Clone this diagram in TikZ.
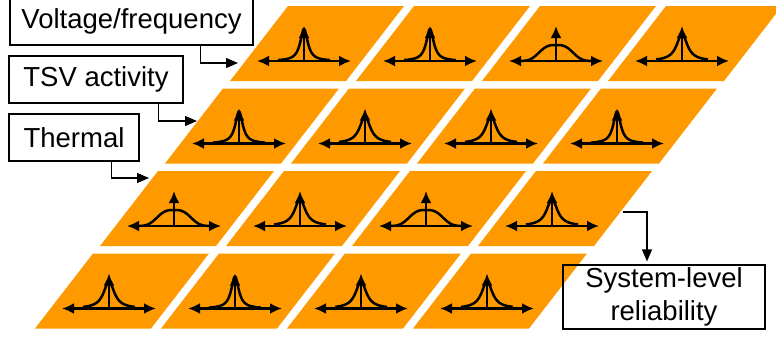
\documentclass[tikz,border=0pt]{standalone}
\usepackage{fontspec}
\setmainfont{Liberation Sans}
\usepackage{tikz}
\usetikzlibrary{arrows.meta}
\definecolor{tileorange}{RGB}{255,153,0}

\begin{document}
\begin{tikzpicture}[
    x=0.5pt, y=-0.5pt,
    labelbox/.style={rectangle, draw, line width=0.6pt, minimum height=23.5pt, inner sep=0pt, align=center, font=\fontsize{13.75}{16.5}\selectfont},
    conn/.style={-{Triangle[length=6pt,width=5pt]}, line width=0.6pt},
    glyph/.style={line width=1.25pt},
    garrow/.style={glyph, -{Latex[length=6pt,width=5.5pt]}},
    gdouble/.style={glyph, {Latex[length=6pt,width=5.5pt]}-{Latex[length=6pt,width=5.5pt]}},
    pics/peaktile/.style 2 args={code={
        \fill[tileorange] (0,0) -- (116,0) -- (58,75) -- (-58,75) -- cycle;
        \draw[glyph] plot[smooth, domain=-26:26, samples=105] ({16+\x},{55-#1/(1+(\x/#2)*(\x/#2))});
        \draw[gdouble] (-31,55) -- (63,55);
        \draw[garrow] (16,55) -- (16,20);
    }},
    pics/flattile/.style={code={
        \fill[tileorange] (0,0) -- (116,0) -- (58,75) -- (-58,75) -- cycle;
        \draw[glyph] plot[smooth, domain=-38:38, samples=77] ({16+\x},{55-16*exp(0-(abs(\x)/19.7)*(abs(\x)/19.7)*(abs(\x)/19.7))});
        \draw[gdouble] (-31,55) -- (63,55);
        \draw[garrow] (16,55) -- (16,20);
    }},
]
\useasboundingbox (0,0) rectangle (776,337);

% Top layer
\pic at (288,6) {peaktile={32}{4.5}};
\pic at (414,6) {peaktile={32}{4.5}};
\pic at (540,6) {flattile};
\pic at (666,6) {peaktile={27}{6.5}};

% Second layer
\pic at (223,88.5) {peaktile={32}{4.5}};
\pic at (349,88.5) {peaktile={27}{6.5}};
\pic at (475,88.5) {peaktile={27}{6.5}};
\pic at (601,88.5) {peaktile={32}{4.5}};

% Third layer
\pic at (158,171) {flattile};
\pic at (284,171) {peaktile={27}{6.5}};
\pic at (410,171) {flattile};
\pic at (536,171) {peaktile={27}{6.5}};

% Bottom layer
\pic at (93,253.5) {peaktile={27}{6.5}};
\pic at (219,253.5) {peaktile={32}{4.5}};
\pic at (345,253.5) {peaktile={27}{6.5}};
\pic at (471,253.5) {peaktile={27}{6.5}};

% Inputs on the left
\node[labelbox, minimum width=121.5pt] (volt) at (131.5,21.5) {Voltage/frequency};
\node[labelbox, minimum width=87pt] (tsv) at (96,79.5) {TSV activity};
\node[labelbox, minimum width=65pt] (therm) at (74,137.5) {Thermal};

\coordinate (vin) at (238,63);
\coordinate (tin) at (197,121);
\coordinate (hin) at (149,178);

\draw[conn] ([xshift=-26.5pt]volt.south east) |- (vin);
\draw[conn] ([xshift=-12.5pt]tsv.south east) |- (tin);
\draw[conn] ([xshift=-14pt]therm.south east) |- (hin);

% Output
\node[labelbox, minimum width=101pt, minimum height=32pt] (sysrel) at (664,297) {System-level\\reliability};
\coordinate (sout) at (623,212);
\draw[conn, shorten >=1.5pt] (sout) -| ([xshift=-8.5pt]sysrel.north);

\end{tikzpicture}
\end{document}
